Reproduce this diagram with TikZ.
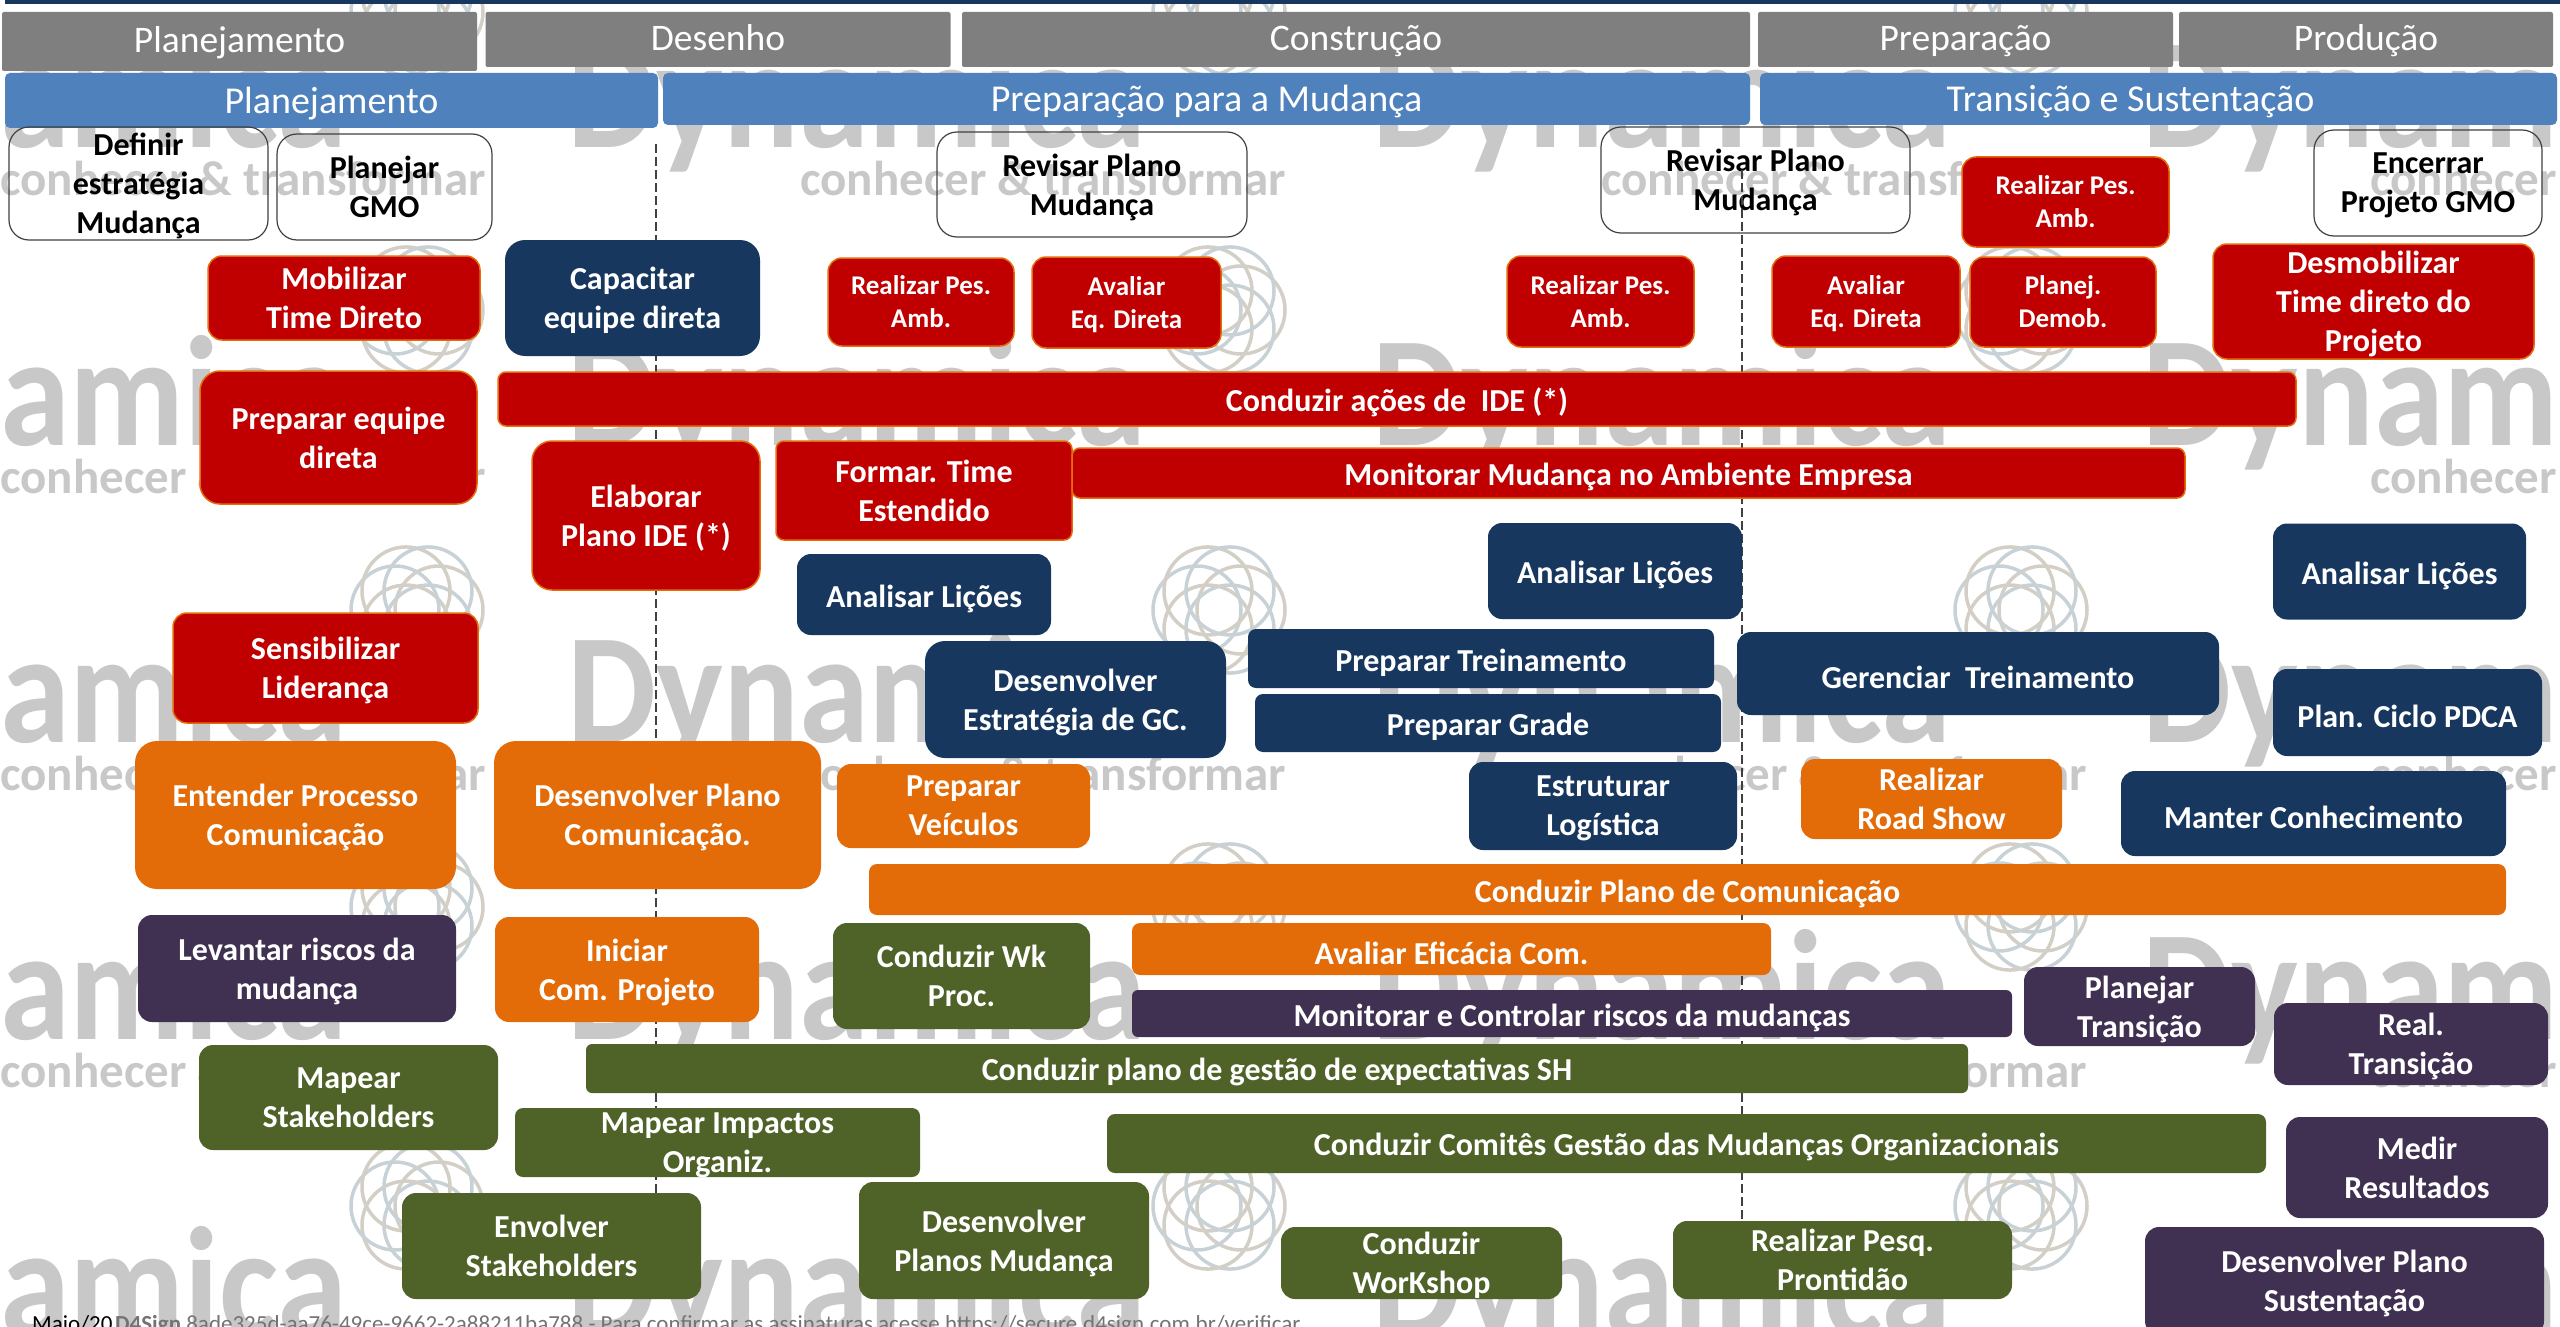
\documentclass[tikz,border=0pt]{standalone}
\usepackage{fontspec}
\setmainfont{Carlito}

\definecolor{barGray}{HTML}{7F7F7F}
\definecolor{barBlue}{HTML}{4F81BD}
\definecolor{taskRed}{HTML}{C00000}
\definecolor{taskEdge}{HTML}{E36C09}
\definecolor{taskNavy}{HTML}{17375E}
\definecolor{taskOrange}{HTML}{E36C09}
\definecolor{taskOlive}{HTML}{4F6228}
\definecolor{taskPurple}{HTML}{403152}
\definecolor{markGray}{HTML}{C8C8C8}
\definecolor{ringBlue}{HTML}{C8D2D6}
\definecolor{ringTan}{HTML}{D3CFC6}

\tikzset{
  task/.style={rounded corners=14pt, inner sep=0pt, align=center, text=white,
    execute at begin node={\setbox0=\hbox\bgroup\rule{0pt}{.95em}},
    execute at end node={\egroup\ifdim\ht0>1.5em\dp0=\dimexpr\dp0-7pt\relax\fi\box0},
    font=\bfseries\fontsize{32}{39}\selectfont},
  smalltask/.style={font=\bfseries\fontsize{27}{33}\selectfont},
  redbox/.style={task, fill=taskRed, draw=taskEdge, line width=1.5pt},
  navybox/.style={task, fill=taskNavy},
  orangebox/.style={task, fill=taskOrange},
  olivebox/.style={task, fill=taskOlive},
  purplebox/.style={task, fill=taskPurple},
  whitebox/.style={task, rounded corners=20pt, text=black, draw=black!75, line width=1.2pt},
  graybar/.style={inner sep=0pt, fill=barGray, text=white, rounded corners=2pt,
    text height=29pt, text depth=6pt, font=\fontsize{37.5}{40}\selectfont},
  bluebar/.style={graybar, fill=barBlue, rounded corners=5pt, text height=32pt,
    font=\fontsize{38}{40}\selectfont},
  phaseline/.style={dashed, dash pattern=on 9pt off 4pt, line width=1.2pt, draw=black!75},
  bigmark/.style={anchor=base west, inner sep=0pt, text=markGray, transform shape, xscale=.9,
    font=\bfseries\fontsize{157}{160}\selectfont},
  smallmark/.style={anchor=base west, inner sep=0pt, text=markGray,
    font=\bfseries\fontsize{49}{50}\selectfont},
  foot/.style={anchor=base west, inner sep=0pt, font=\fontsize{23}{24}\selectfont},
  ringlogo/.pic={
    \foreach \a/\c in {0/ringTan,60/ringBlue,120/ringTan,180/ringBlue,240/ringTan,300/ringBlue}
      \draw[\c, line width=3.5pt] (\a:22) circle [radius=44];
  }
}

\begin{document}
\begin{tikzpicture}[x=1pt, y=-1pt]
      \useasboundingbox (0,0) rectangle (2560,1327);

      \foreach \rowy [count=\r] in {148,445,742,1039,1336} {
        \foreach \wordx [count=\n] in {-232,567,1372,2142}
          \node[bigmark] (dyn\r\n) at (\wordx,\rowy) {Dynamica};
        \foreach \subx [count=\n] in {0,800,1601,2370}
          \node[smallmark] (sub\r\n) at (\subx,\rowy+48) {conhecer \& transformar};
      }
      \foreach \ringx in {417,1219,2021}
        \foreach \ringy in {12,310,610,907,1206}
          \pic at (\ringx,\ringy) {ringlogo};

      \fill[taskNavy] (5,0) rectangle (2560,4);

      \node[graybar,minimum width=475,minimum height=59] (phaseA) at (239.5,41.5) {Planejamento};
      \node[graybar,minimum width=465,minimum height=55] (phaseB) at (718,39.5) {Desenho};
      \node[graybar,minimum width=788,minimum height=55] (phaseC) at (1356,39.5) {Construção};
      \node[graybar,minimum width=415,minimum height=55] (phaseD) at (1965.5,39.5) {Preparação};
      \node[graybar,minimum width=374,minimum height=55] (phaseE) at (2366,39.5) {Produção};
      \node[bluebar,minimum width=653,minimum height=55] (stageA) at (331.5,100.5) {Planejamento};
      \node[bluebar,minimum width=1087,minimum height=52] (stageB) at (1206.5,99) {Preparação para a Mudança};
      \node[bluebar,minimum width=797,minimum height=52] (stageC) at (2158.5,99) {Transição e Sustentação\hspace*{56pt}};

      \node[whitebox,minimum width=259,minimum height=113] (definir) at (138.5,183.5) {Definir\\estratégia\\Mudança};
      \node[whitebox,minimum width=215,minimum height=106] (planGmo) at (384.5,187) {Planejar\\GMO};
      \node[whitebox,minimum width=310,minimum height=105] (revisarA) at (1092,184.5) {Revisar Plano\\Mudança};
      \node[whitebox,minimum width=309,minimum height=106] (revisarB) at (1755.5,180) {Revisar Plano\\Mudança};
      \node[whitebox,minimum width=228,minimum height=106] (encerrar) at (2428,183) {Encerrar\\Projeto GMO};

      \coordinate (gateAtop) at (656,144);
      \coordinate (gateAend) at (656,1200);
      \coordinate (gateBtop) at (1742,170);
      \coordinate (gateBend) at (1742,1225);
      \draw[phaseline] (gateAtop) -- (gateAend);
      \draw[phaseline] (gateBtop) -- (gateBend);

      \node[redbox,minimum width=272,minimum height=84] (mobilizar) at (344,298) {Mobilizar\\Time Direto};
      \node[redbox,minimum width=277,minimum height=133,rounded corners=20pt] (prepEquipe) at (338.5,437.5) {Preparar equipe\\direta};
      \node[redbox,minimum width=1798,minimum height=54,rounded corners=8pt] (condIde) at (1397,399) {Conduzir ações de~ IDE (*)};
      \node[redbox,minimum width=228,minimum height=149,rounded corners=20pt] (elaborar) at (646,515.5) {Elaborar\\Plano IDE (*)};
      \node[redbox,minimum width=296,minimum height=99,rounded corners=8pt] (formar) at (924,490.5) {Formar. Time\\Estendido};
      \node[redbox,minimum width=1113,minimum height=50,rounded corners=8pt] (monitMud) at (1628.5,473) {Monitorar Mudança no Ambiente Empresa};
      \node[redbox,smalltask,minimum width=186,minimum height=88] (realPesA) at (921,302) {Realizar Pes.\\Amb.};
      \node[redbox,smalltask,minimum width=189,minimum height=91] (avaliarA) at (1126.5,302.5) {Avaliar\\Eq. Direta};
      \node[redbox,smalltask,minimum width=187,minimum height=91] (realPesB) at (1600.5,301.5) {Realizar Pes.\\Amb.};
      \node[redbox,smalltask,minimum width=188,minimum height=91] (avaliarB) at (1866,301.5) {Avaliar\\Eq. Direta};
      \node[redbox,smalltask,minimum width=186,minimum height=90] (planDemob) at (2063,302) {Planej.\\Demob.};
      \node[redbox,smalltask,minimum width=207,minimum height=90] (realPesC) at (2065.5,202) {Realizar Pes.\\Amb.};
      \node[redbox,minimum width=321,minimum height=115] (desmob) at (2373.5,301.5) {Desmobilizar\\Time direto do\\Projeto};
      \node[redbox,minimum width=305,minimum height=110] (sensib) at (325.5,668) {Sensibilizar\\Liderança};

      \node[navybox,minimum width=255,minimum height=116,rounded corners=20pt] (capacitar) at (632.5,298) {Capacitar\\equipe direta};
      \node[navybox,minimum width=254,minimum height=81] (analisarA) at (924,594.5) {Analisar Lições};
      \node[navybox,minimum width=254,minimum height=96] (analisarB) at (1615,571) {Analisar Lições};
      \node[navybox,minimum width=253,minimum height=96] (analisarC) at (2399.5,571.5) {Analisar Lições};
      \node[navybox,minimum width=301,minimum height=117,rounded corners=20pt] (desenvGc) at (1075.5,699.5) {Desenvolver\\Estratégia de GC.};
      \node[navybox,minimum width=466,minimum height=59,rounded corners=8pt] (prepTrein) at (1481,658.5) {Preparar Treinamento};
      \node[navybox,minimum width=466,minimum height=58,rounded corners=8pt] (prepGrade) at (1488,723) {Preparar Grade};
      \node[navybox,minimum width=482,minimum height=83] (gerenciar) at (1978,673.5) {Gerenciar~ Treinamento};
      \node[navybox,minimum width=269,minimum height=87] (planCiclo) at (2407.5,712.5) {Plan. Ciclo PDCA};
      \node[navybox,minimum width=268,minimum height=88] (estrutLog) at (1603,806) {Estruturar\\Logística};
      \node[navybox,minimum width=385,minimum height=85] (manter) at (2313.5,813.5) {Manter Conhecimento};

      \node[orangebox,minimum width=321,minimum height=148,rounded corners=22pt] (entender) at (295.5,815) {Entender Processo\\Comunicação};
      \node[orangebox,minimum width=327,minimum height=148,rounded corners=22pt] (desenvPlano) at (657.5,815) {Desenvolver Plano\\Comunicação.};
      \node[orangebox,minimum width=264,minimum height=105] (iniciar) at (627,969.5) {Iniciar\\Com. Projeto};
      \node[orangebox,minimum width=253,minimum height=84] (prepVeic) at (963.5,806) {Preparar\\Veículos};
      \node[orangebox,minimum width=261,minimum height=80] (realRoad) at (1931.5,799) {Realizar\\Road Show};
      \node[orangebox,minimum width=1637,minimum height=51,rounded corners=8pt] (condPlano) at (1687.5,889.5) {Conduzir Plano de Comunicação};
      \node[orangebox,minimum width=639,minimum height=52,rounded corners=8pt] (avalEfic) at (1451.5,949) {Avaliar Eficácia Com.};

      \node[purplebox,minimum width=318,minimum height=107] (levantar) at (297,968.5) {Levantar riscos da\\mudança};
      \node[purplebox,minimum width=880,minimum height=47,rounded corners=6pt] (monitRiscos) at (1572,1013.5) {Monitorar e Controlar riscos da mudanças};
      \node[purplebox,minimum width=231,minimum height=79] (planTrans) at (2139.5,1006.5) {Planejar\\Transição};
      \node[purplebox,minimum width=274,minimum height=82] (realTrans) at (2411,1044) {Real.\\Transição};
      \node[purplebox,minimum width=262,minimum height=101] (medir) at (2417,1167.5) {Medir\\Resultados};
      \node[purplebox,minimum width=399,minimum height=108] (desenvSust) at (2344.5,1281) {Desenvolver Plano\\Sustentação};

      \node[olivebox,minimum width=257,minimum height=106] (condWk) at (961.5,976) {Conduzir Wk\\Proc.};
      \node[olivebox,minimum width=299,minimum height=105] (mapStake) at (348.5,1097.5) {Mapear\\Stakeholders};
      \node[olivebox,minimum width=1382,minimum height=49,rounded corners=6pt] (condExpect) at (1277,1068.5) {Conduzir plano de gestão de expectativas SH};
      \node[olivebox,minimum width=405,minimum height=69,rounded corners=8pt] (mapImpact) at (717.5,1142.5) {Mapear Impactos\\Organiz.};
      \node[olivebox,minimum width=1159,minimum height=59,rounded corners=8pt] (condComites) at (1686.5,1143.5) {Conduzir Comitês Gestão das Mudanças Organizacionais};
      \node[olivebox,minimum width=299,minimum height=106] (envolver) at (551.5,1246) {Envolver\\Stakeholders};
      \node[olivebox,minimum width=290,minimum height=117] (desenvPlanos) at (1004,1240.5) {Desenvolver\\Planos Mudança};
      \node[olivebox,minimum width=281,minimum height=72] (condWork) at (1421.5,1263) {Conduzir\\WorKshop};
      \node[olivebox,minimum width=339,minimum height=78] (realPesq) at (1842.5,1260) {Realizar Pesq.\\Prontidão};

      \node[foot,text=black] (footDate) at (32,1331) {Maio/20};
      \node[foot,text=black!55] (footSign) at (115,1331) {\textbf{D4Sign} 8ade325d-aa76-49ce-9662-2a88211ba788 - Para confirmar as assinaturas acesse https://secure.d4sign.com.br/verificar};
\end{tikzpicture}
\end{document}
